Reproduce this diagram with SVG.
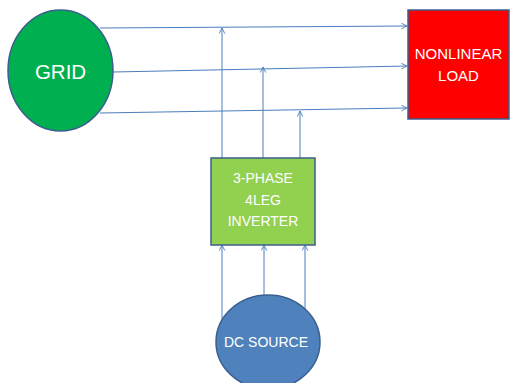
<svg xmlns="http://www.w3.org/2000/svg" width="510" height="383" viewBox="0 0 510 383">
<style>
.t{font-family:"Liberation Sans",Arial,sans-serif;fill:#ffffff;text-anchor:middle}
.c{stroke:#4a7ebb;stroke-width:1;fill:none;marker-end:url(#a)}
.n{stroke:#3a5f8f;stroke-width:1.5}
</style>
<defs>
<marker id="a" viewBox="0 0 10 10" refX="9" refY="5" markerWidth="7" markerHeight="7" orient="auto" markerUnits="userSpaceOnUse">
<path d="M1,1 L9,5 L1,9" fill="none" stroke="#4a7ebb" stroke-width="1.3"/>
</marker>
</defs>
<rect width="510" height="383" fill="#ffffff"/>
<g id="connectors">
<line class="c" x1="100" y1="28" x2="407" y2="26"/>
<line class="c" x1="113" y1="72" x2="407" y2="66"/>
<line class="c" x1="100" y1="113" x2="407" y2="108"/>
<line class="c" x1="222" y1="158" x2="222" y2="28"/>
<line class="c" x1="263" y1="158" x2="263" y2="67"/>
<line class="c" x1="300" y1="158" x2="300" y2="111"/>
<line class="c" x1="222" y1="322" x2="222" y2="245"/>
<line class="c" x1="264" y1="300" x2="264" y2="245"/>
<line class="c" x1="305" y1="313" x2="305" y2="245"/>
</g>
<g id="grid">
<ellipse class="n" cx="60.5" cy="70.5" rx="52.5" ry="60.5" fill="#00b050"/>
<text class="t" x="60.5" y="79" font-size="20.5">GRID</text>
</g>
<g id="load">
<rect class="n" x="408" y="10" width="101" height="109" fill="#ff0000"/>
<text class="t" x="458.5" y="59" font-size="15">NONLINEAR</text>
<text class="t" x="458.5" y="81" font-size="15">LOAD</text>
</g>
<g id="inverter">
<rect class="n" x="211" y="158" width="104" height="87" fill="#92d050"/>
<text class="t" x="263" y="183" font-size="14">3-PHASE</text>
<text class="t" x="263" y="205" font-size="14">4LEG</text>
<text class="t" x="263" y="226" font-size="14">INVERTER</text>
</g>
<g id="dcsource">
<ellipse class="n" cx="268" cy="342" rx="52" ry="47" fill="#4f81bd"/>
<text class="t" x="266" y="347" font-size="14">DC SOURCE</text>
</g>
</svg>
